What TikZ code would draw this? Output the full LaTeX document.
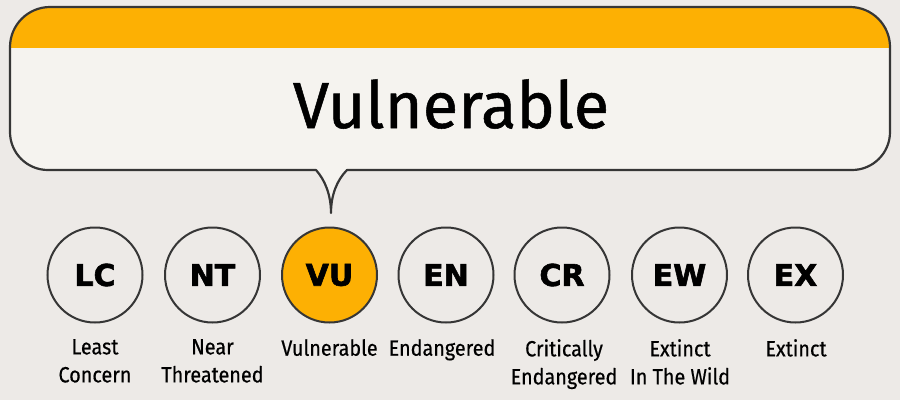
\documentclass[tikz,border=0pt]{standalone}
\usepackage{fontspec}
\setmainfont{Fira Sans}
\newfontfamily\titlefont{Fira Sans}[FakeBold=0.8]
\newfontfamily\codefont{DejaVu Sans}[UprightFont={* Bold},FakeBold=2]
\newfontfamily\labelfont{Fira Sans}[FakeStretch=0.9,FakeBold=0.5]
\definecolor{bgc}{HTML}{EDEAE7}
\definecolor{boxc}{HTML}{F5F3EF}
\definecolor{orng}{HTML}{FDB003}
\definecolor{linec}{HTML}{363636}
\tikzset{
  cat/.style={circle, draw=linec, line width=2pt, minimum size=95pt, inner sep=0pt, fill=none,
    font=\codefont\fontsize{30}{30}\selectfont},
  catsel/.style={cat, fill=orng},
  catlabel/.style={anchor=north, align=center, inner sep=0pt,
    font=\labelfont\fontsize{22}{28}\selectfont}
}
\begin{document}
\begin{tikzpicture}[x=1pt,y=-1pt]
\useasboundingbox (0,0) rectangle (900,400);
\fill[bgc] (0,0) rectangle (900,400);
% bubble
\def\bubble{(10,47) .. controls (10,25) and (28,7) .. (50,7) -- (850,7)
  .. controls (872,7) and (890,25) .. (890,47) -- (890,132)
  .. controls (890,153) and (873,170) .. (852,170) -- (347,170)
  .. controls (337,180) and (331,195) .. (331,213)
  .. controls (331,195) and (325,180) .. (316,170)
  -- (48,170) .. controls (27,170) and (10,153) .. (10,132) -- cycle}
\fill[boxc] \bubble;
\begin{scope}
  \clip \bubble;
  \fill[orng] (0,0) rectangle (900,48);
\end{scope}
\draw[linec, line width=2.2pt, line join=round] \bubble;
\node[font=\titlefont\fontsize{65}{65}\selectfont, anchor=base] (title) at (451,128) {Vulnerable};
% circles
\node[cat] (lc) at (95,275) {LC};
\node[cat] (nt) at (212.5,275) {NT};
\node[catsel] (vu) at (329.5,275) {VU};
\node[cat] (en) at (446,275) {EN};
\node[cat] (cr) at (562,275) {CR};
\node[cat] (ew) at (679.5,275) {EW};
\node[cat] (ex) at (795.5,275) {EX};
% labels
\node[catlabel] (llc) at (95,339) {Least\\Concern};
\node[catlabel] (lnt) at (212.5,339) {Near\\Threatened};
\node[catlabel] (lvu) at (329.5,339) {Vulnerable};
\node[catlabel] (len) at (442,339) {Endangered};
\node[catlabel] (lcr) at (564,339) {Critically\\Endangered};
\node[catlabel] (lew) at (680,339) {Extinct\\In The Wild};
\node[catlabel] (lex) at (796,339) {Extinct};
\end{tikzpicture}
\end{document}
